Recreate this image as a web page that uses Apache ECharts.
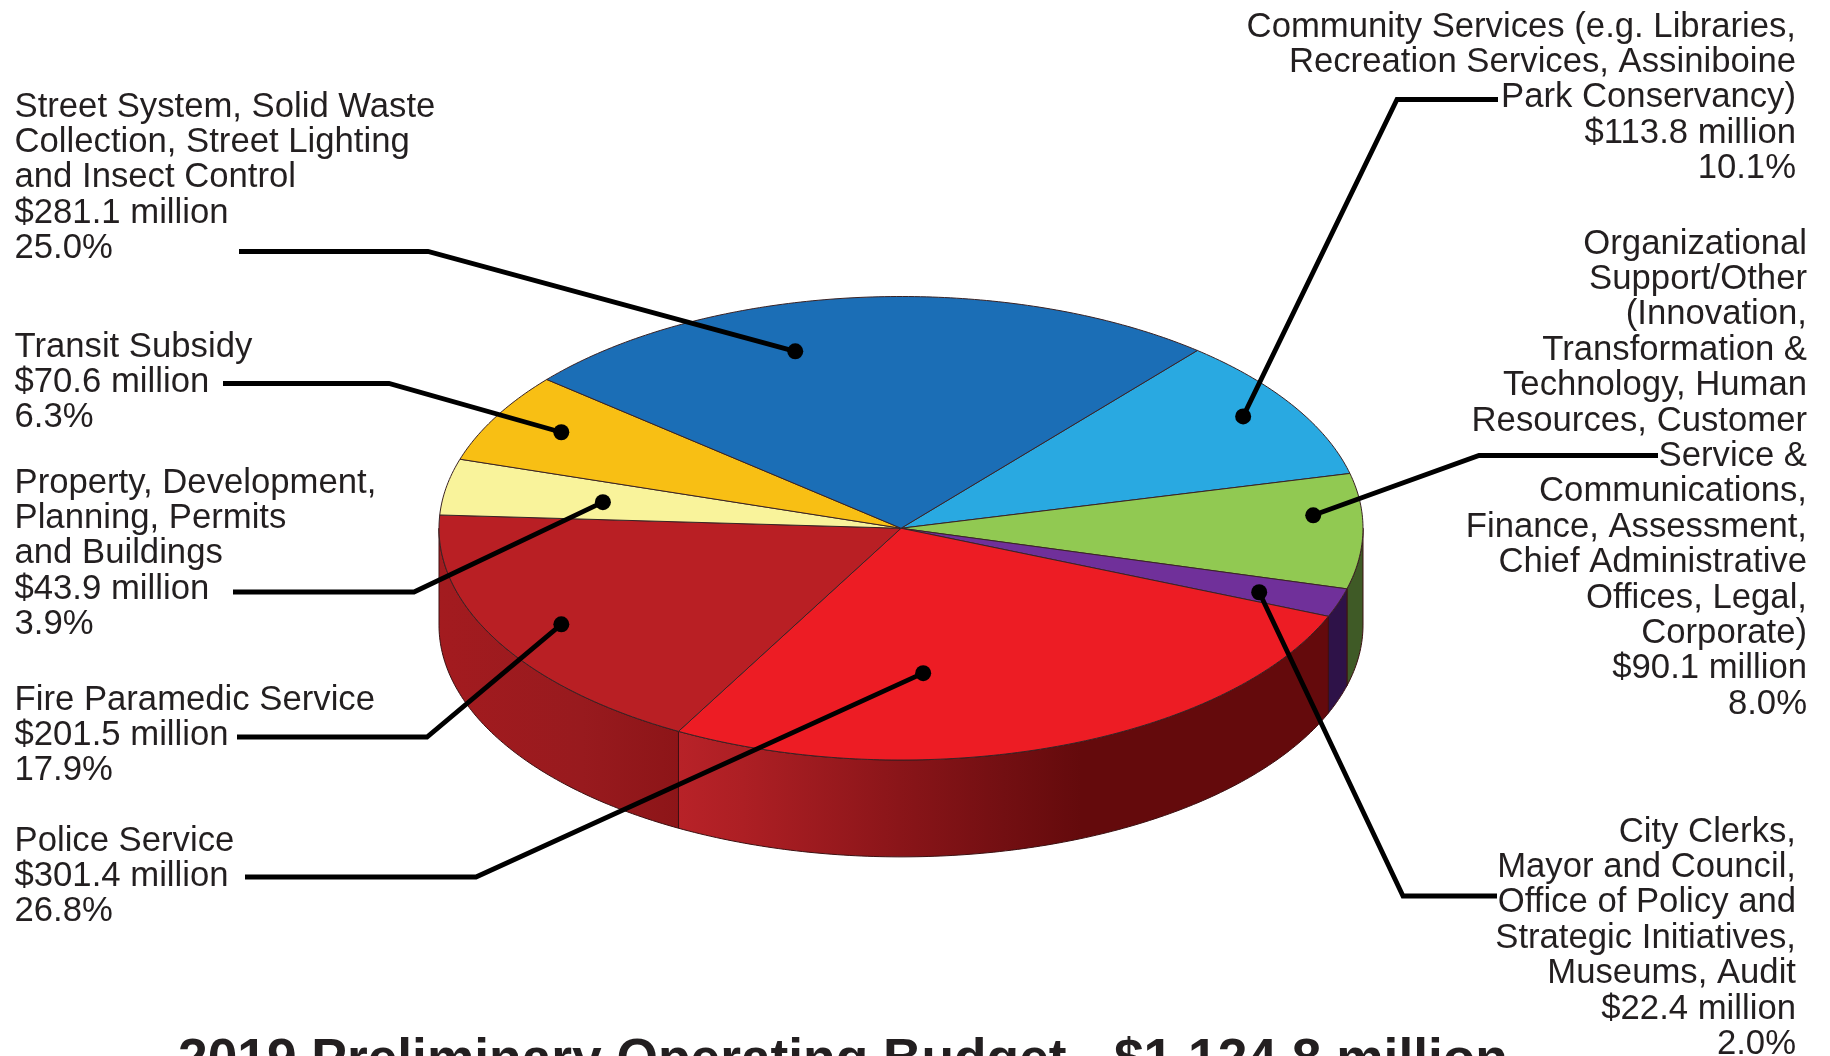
<!DOCTYPE html>
<html>
<head>
<meta charset="utf-8">
<style>html,body{margin:0;padding:0;background:#fff}#chart{width:1830px;height:1056px}</style>
<script src="https://cdn.jsdelivr.net/npm/echarts@6/dist/echarts.min.js"></script>
</head>
<body>
<div id="chart"></div>
<script>
// Budget departments, clockwise from the top right of the disc
const categories = [
  ['Community Services (e.g. Libraries,', 'Recreation Services, Assiniboine', 'Park Conservancy)'],
  ['Organizational', 'Support/Other', '(Innovation,', 'Transformation &', 'Technology, Human', 'Resources, Customer', 'Service &', 'Communications,', 'Finance, Assessment,', 'Chief Administrative', 'Offices, Legal,', 'Corporate)'],
  ['City Clerks,', 'Mayor and Council,', 'Office of Policy and', 'Strategic Initiatives,', 'Museums, Audit'],
  ['Police Service'],
  ['Fire Paramedic Service'],
  ['Property, Development,', 'Planning, Permits', 'and Buildings'],
  ['Transit Subsidy'],
  ['Street System, Solid Waste', 'Collection, Street Lighting', 'and Insect Control']
];
const amounts = [113.8, 90.1, 22.4, 301.4, 201.5, 43.9, 70.6, 281.1];
const shares = ['10.1%', '8.0%', '2.0%', '26.8%', '17.9%', '3.9%', '6.3%', '25.0%'];
const chartTitle = '2019 Preliminary Operating Budget - $1,124.8 million';

const topColors = ['#29a9e1', '#91c952', '#70309a', '#ed1c24', '#b91f24', '#f9f39b', '#f8bf14', '#1b6eb6'];
const sideFills = ['#1b6eb6', '#3f5a26', '#2e1248',
  [[0, '#b82228'], [0.1, '#ad1f24'], [0.34, '#8a1519'], [0.5, '#730f12'], [0.62, '#640a0c'], [1, '#640a0c']],
  [[0, '#a31b1f'], [0.6, '#981a1e'], [1, '#8d1518']],
  '#f9f39b', '#f8bf14', '#1b6eb6'];

// Where each leader touches its slice: share of the slice's sweep and of the radius
const anchorSweep = [0.467, 0.35, 0.619, 0.656, 0.493, 0.471, 0.534, 0.371];
const anchorRadius = [0.884, 0.894, 0.823, 0.627, 0.844, 0.655, 0.844, 0.797];
// Leader start and elbow, in page pixels
const leaderPaths = [
  [[1498, 99.5], [1397, 99.5]], [[1658, 455.5], [1479, 455.5]], [[1497, 896], [1403, 896]],
  [[245, 877], [476, 877]], [[237, 737], [427, 737]], [[233, 592], [414, 592]],
  [[223, 383.5], [389, 383.5]], [[239, 251.5], [428, 251.5]]
];
// Text block placement: x, baseline of the first line, alignment
const labelBlocks = [
  [1796, 37, 'right'], [1807, 254, 'right'], [1796, 842, 'right'],
  [14.5, 851, 'left'], [14.5, 710, 'left'], [14.5, 493, 'left'], [14.5, 357, 'left'], [14.5, 117, 'left']
];

const START_ANGLE = 39.9;   // degrees clockwise from twelve o'clock
const DEPTH = 0.418;        // wall height in units of the vertical radius
const LINE_HEIGHT = 35.4;
const INK = '#231f20';

const total = amounts.reduce((a, b) => a + b, 0);
const sweeps = [];
amounts.reduce((from, v) => {
  const to = from + v / total * 360;
  sweeps.push([from, to]);
  return to;
}, START_ANGLE);

const rad = d => d * Math.PI / 180;
const rimX = (deg, r) => r * Math.sin(rad(deg));
const rimY = (deg, r) => r * Math.cos(rad(deg));

function arc(from, to) {
  const pts = [];
  const n = Math.max(2, Math.ceil((to - from) / 0.75));
  for (let k = 0; k <= n; k++) {
    const a = from + (to - from) * k / n;
    pts.push([rimX(a, 1), rimY(a, 1)]);
  }
  return pts;
}

function renderWall(params, api) {
  const i = params.dataIndex;
  const from = Math.max(sweeps[i][0], 90);
  const to = Math.min(sweeps[i][1], 270);
  if (to <= from) return null;
  const upper = arc(from, to);
  const lower = upper.slice().reverse().map(p => [p[0], p[1] - DEPTH]);
  const fill = sideFills[i];
  return {
    type: 'polygon',
    shape: { points: upper.concat(lower).map(p => api.coord(p)) },
    style: {
      fill: Array.isArray(fill) ? {
        type: 'linear', x: 0, y: 0, x2: 1, y2: 0,
        colorStops: fill.map(s => ({ offset: s[0], color: s[1] }))
      } : fill,
      stroke: '#3c1012', lineWidth: 1
    }
  };
}

function renderTop(params, api) {
  const i = params.dataIndex;
  const pts = [[0, 0]].concat(arc(sweeps[i][0], sweeps[i][1]));
  return {
    type: 'polygon',
    shape: { points: pts.map(p => api.coord(p)) },
    style: { fill: topColors[i], stroke: '#3a2325', lineWidth: 1 }
  };
}

function renderLeader(params, api) {
  const i = params.dataIndex;
  const a = sweeps[i][0] + (sweeps[i][1] - sweeps[i][0]) * anchorSweep[i];
  const tip = api.coord([rimX(a, anchorRadius[i]), rimY(a, anchorRadius[i])]);
  return {
    type: 'group',
    children: [
      { type: 'polyline', shape: { points: leaderPaths[i].concat([tip]) },
        style: { fill: null, stroke: '#000', lineWidth: 4.8, lineJoin: 'miter' } },
      { type: 'circle', shape: { cx: tip[0], cy: tip[1], r: 8 }, style: { fill: '#000' } }
    ]
  };
}

function renderLabel(params) {
  const i = params.dataIndex;
  const lines = categories[i].concat(['$' + amounts[i].toFixed(1) + ' million', shares[i]]);
  const [x, base, align] = labelBlocks[i];
  return {
    type: 'group',
    children: lines.map((t, k) => ({
      type: 'text',
      style: {
        text: t, x, y: base + k * LINE_HEIGHT - 10, align, verticalAlign: 'middle',
        fill: INK, font: '34.7px "Liberation Sans"'
      }
    }))
  };
}

const rows = amounts.map((v, i) => [i, v]);
const layer = (renderItem, z) => ({ type: 'custom', data: rows, renderItem, z, silent: true, animation: false, clip: false });

echarts.init(document.getElementById('chart'), null, { renderer: 'canvas' }).setOption({
  backgroundColor: '#fff',
  animation: false,
  title: {
    text: chartTitle, left: 178, top: 1035, padding: 0,
    textStyle: { color: INK, fontFamily: 'Liberation Sans', fontWeight: 'bold', fontSize: 53.3 }
  },
  // The axes map the disc's unit ellipse onto the page
  grid: { left: 439, top: 296.5, width: 924, height: 463.5, containLabel: false },
  xAxis: { type: 'value', min: -1, max: 1, show: false },
  yAxis: { type: 'value', min: -1, max: 1, show: false },
  series: [layer(renderWall, 1), layer(renderTop, 2), layer(renderLeader, 3), layer(renderLabel, 4)]
});
</script>
</body>
</html>
